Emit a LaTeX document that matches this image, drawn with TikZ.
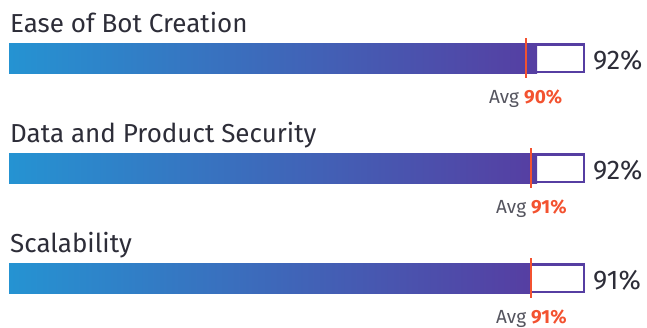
\documentclass[tikz,border=0pt]{standalone}
\usepackage{fontspec}
\setmainfont{Fira Sans}
\usetikzlibrary{positioning}
\definecolor{barblue}{RGB}{37,147,210}
\definecolor{barpurple}{RGB}{86,62,162}
\definecolor{avgred}{RGB}{243,82,48}
\definecolor{labelgray}{RGB}{45,45,56}
\definecolor{avggray}{RGB}{85,85,95}
\begin{document}
\begin{tikzpicture}[x=1pt,y=-1pt,
    barlabel/.style={anchor=base west,inner sep=0pt,text=labelgray,
      font=\fontsize{26}{26}\selectfont},
    barframe/.style={draw=barpurple,line width=2.5pt,fill=white},
    avgline/.style={draw=avgred,line width=2pt},
    avgtext/.style={anchor=base,inner sep=0pt,text=avggray,
      font=\fontsize{19}{19}\selectfont},
    pcttext/.style={anchor=base west,inner sep=0pt,text=labelgray,
      font=\fontsize{27}{27}\selectfont}]
  \useasboundingbox (0,0) rectangle (647,327);

  \foreach \i/\txt/\val/\avg in {0/Ease of Bot Creation/92/90,
      1/Data and Product Security/92/91, 2/Scalability/91/91}{
    \pgfmathsetmacro\bary{43+110*\i}
    \pgfmathsetmacro\fillx{9+5.74*\val}
    \pgfmathsetmacro\avgx{9+5.74*\avg}
    \node[barlabel] (lbl\i) at (10,\bary-11) {\txt};
    \draw[barframe] (10.25,\bary+1.25) rectangle (583.75,\bary+28.75);
    \shade[left color=barblue,right color=barpurple] (9,\bary) rectangle (\fillx,\bary+30);
    \coordinate (mkt\i) at (\avgx,\bary-5);
    \coordinate (mkb\i) at (\avgx,\bary+35);
    \draw[avgline] (mkt\i) -- (mkb\i);
    \node[pcttext] (pct\i) at (593,\bary+26) {\val\%};
    \node[avgtext] (avg\i) at (\avgx,\bary+60)
      {Avg \textcolor{avgred}{\bfseries\avg\%}};
  }
\end{tikzpicture}
\end{document}
